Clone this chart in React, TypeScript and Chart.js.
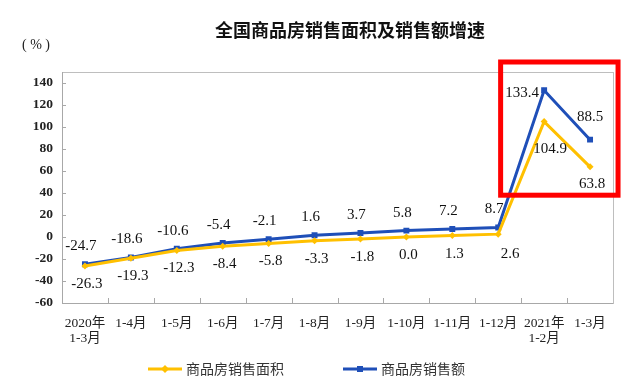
import { useEffect, useRef } from 'react';
import { Chart, registerables } from 'chart.js';

Chart.register(...registerables);

const chartTitle = '全国商品房销售面积及销售额增速';
const unitLabel = '( % )';
const categories: (string | string[])[] = [
  ['2020年', '1-3月'], '1-4月', '1-5月', '1-6月', '1-7月', '1-8月',
  '1-9月', '1-10月', '1-11月', '1-12月', ['2021年', '1-2月'], '1-3月',
];
const seriesNames = ['商品房销售面积', '商品房销售额'];
const salesArea = [-26.3, -19.3, -12.3, -8.4, -5.8, -3.3, -1.8, 0.0, 1.3, 2.6, 104.9, 63.8];
const salesAmount = [-24.7, -18.6, -10.6, -5.4, -2.1, 1.6, 3.7, 5.8, 7.2, 8.7, 133.4, 88.5];
const yTickValues = [-60, -40, -20, 0, 20, 40, 60, 80, 100, 120, 140];

// label placement (style): [dx, dy] offsets from the point
const areaLabelOffsets: [number, number][] = salesArea.map((_, i) =>
  i === 9 ? [12, 20] : i === 10 ? [6, 27] : i === 11 ? [2, 17] : [2, 18]);
const amountLabelOffsets: [number, number][] = salesAmount.map((_, i) =>
  i === 10 ? [-22, 3] : i === 11 ? [0, -23] : [-4, -18]);

const YELLOW = '#FFC000';
const BLUE = '#1F4FB8';
const SERIF = "'Liberation Serif', 'Times New Roman', 'Noto Sans CJK SC', serif";
const FRAME = '#BEBEBE';

const decorPlugin = {
  id: 'decor',
  beforeDatasetsDraw(chart: any) {
    const { ctx, chartArea: a, scales } = chart;
    ctx.save();
    ctx.strokeStyle = FRAME;
    ctx.lineWidth = 1;
    ctx.strokeRect(Math.round(a.left) + 0.5, Math.round(a.top) + 0.5,
      Math.round(a.right - a.left), Math.round(a.bottom - a.top));
    ctx.strokeStyle = '#A8A8A8';
    ctx.beginPath();
    ctx.moveTo(Math.round(a.left) + 0.5, a.top);
    ctx.lineTo(Math.round(a.left) + 0.5, a.bottom);
    ctx.moveTo(a.left, Math.round(a.bottom) + 0.5);
    ctx.lineTo(a.right, Math.round(a.bottom) + 0.5);
    for (const v of yTickValues) {
      const y = Math.round(scales.y.getPixelForValue(v)) + 0.5;
      ctx.moveTo(a.left, y);
      ctx.lineTo(a.left + 4, y);
    }
    const xs = scales.x;
    for (let i = 1; i < categories.length; i++) {
      const x = Math.round((xs.getPixelForValue(i - 1) + xs.getPixelForValue(i)) / 2) + 0.5;
      ctx.moveTo(x, a.bottom);
      ctx.lineTo(x, a.bottom - 5);
    }
    ctx.stroke();
    ctx.restore();
  },
  afterDatasetsDraw(chart: any) {
    const { ctx, scales } = chart;
    ctx.save();
    ctx.font = `15px ${SERIF}`;
    ctx.fillStyle = '#111';
    ctx.textAlign = 'center';
    ctx.textBaseline = 'middle';
    const draw = (dsIndex: number, values: number[], offs: [number, number][]) => {
      const meta = chart.getDatasetMeta(dsIndex);
      meta.data.forEach((pt: any, i: number) => {
        ctx.fillText(values[i].toFixed(1), pt.x + offs[i][0], pt.y + offs[i][1]);
      });
    };
    draw(0, salesArea, areaLabelOffsets);
    draw(1, salesAmount, amountLabelOffsets);

    // title
    ctx.font = `bold 18px 'Noto Sans CJK SC', sans-serif`;
    ctx.fillStyle = '#111';
    ctx.fillText(chartTitle, 350, 30);
    // unit
    ctx.font = `14px ${SERIF}`;
    ctx.textAlign = 'left';
    ctx.fillStyle = '#222';
    ctx.fillText(unitLabel, 22, 45);

    // legend
    const legendItems = [
      { name: seriesNames[0], color: YELLOW, x: 148, style: 'diamond' },
      { name: seriesNames[1], color: BLUE, x: 343, style: 'square' },
    ];
    const ly = 369;
    for (const it of legendItems) {
      ctx.strokeStyle = it.color;
      ctx.lineWidth = 3;
      ctx.beginPath();
      ctx.moveTo(it.x, ly);
      ctx.lineTo(it.x + 34, ly);
      ctx.stroke();
      ctx.fillStyle = it.color;
      const cx = it.x + 17;
      ctx.beginPath();
      if (it.style === 'diamond') {
        ctx.moveTo(cx, ly - 4); ctx.lineTo(cx + 4, ly); ctx.lineTo(cx, ly + 4); ctx.lineTo(cx - 4, ly);
        ctx.closePath();
      } else {
        ctx.rect(cx - 3, ly - 3, 6, 6);
      }
      ctx.fill();
      ctx.fillStyle = '#333';
      ctx.font = `14px ${SERIF}`;
      ctx.textAlign = 'left';
      ctx.fillText(it.name, it.x + 38, ly + 1);
    }

    // red highlight box around the 2021 values
    const xs = scales.x, ysc = scales.y;
    const left = xs.getPixelForValue(10) - 43.5;
    const right = xs.getPixelForValue(11) + 28;
    const top = ysc.getPixelForValue(150) - 10;
    const bottom = ysc.getPixelForValue(38);
    ctx.strokeStyle = '#FF0000';
    ctx.lineWidth = 5;
    ctx.strokeRect(left, top, right - left, bottom - top);
    ctx.restore();
  },
};

export default function App() {
  const ref = useRef<HTMLCanvasElement>(null);
  useEffect(() => {
    document.body.style.margin = '0';
    const canvas = ref.current!;
    const chart = new Chart(canvas, {
      type: 'line',
      data: {
        labels: categories as any,
        datasets: [
          {
            label: seriesNames[0],
            data: salesArea,
            borderColor: YELLOW,
            backgroundColor: YELLOW,
            borderWidth: 3,
            pointStyle: 'rectRot',
            pointRadius: 3.5,
            pointBorderWidth: 0,
            tension: 0,
          },
          {
            label: seriesNames[1],
            data: salesAmount,
            borderColor: BLUE,
            backgroundColor: BLUE,
            borderWidth: 3,
            pointStyle: 'rect',
            pointRadius: 4.2,
            pointBorderWidth: 0,
            tension: 0,
          },
        ],
      },
      options: {
        responsive: false,
        animation: false,
        layout: { padding: { left: 0, right: 25, top: 72, bottom: 0 } },
        plugins: {
          legend: { display: false },
          title: { display: false },
          tooltip: { enabled: false },
        },
        scales: {
          x: {
            type: 'category',
            offset: true,
            grid: { display: false, drawTicks: false },
            border: { display: false },
            ticks: {
              autoSkip: false,
              maxRotation: 0,
              padding: 12.5,
              color: '#222',
              font: { family: SERIF, size: 13.5, lineHeight: 15 / 13.5 },
            },
            afterFit: (s: any) => { s.height = 85; },
          },
          y: {
            min: -60,
            max: 150,
            grid: { display: false, drawTicks: false },
            border: { display: false },
            ticks: {
              stepSize: 20,
              padding: 9,
              color: '#222',
              font: { family: SERIF, size: 13.5, weight: 'bold' },
            },
            afterBuildTicks: (s: any) => { s.ticks = yTickValues.map((v) => ({ value: v })); },
            afterFit: (s: any) => { s.width = 62; },
          },
        },
      },
      plugins: [decorPlugin],
    });
    return () => chart.destroy();
  }, []);
  return <canvas ref={ref} width={638} height={388} style={{ display: 'block' }} />;
}
